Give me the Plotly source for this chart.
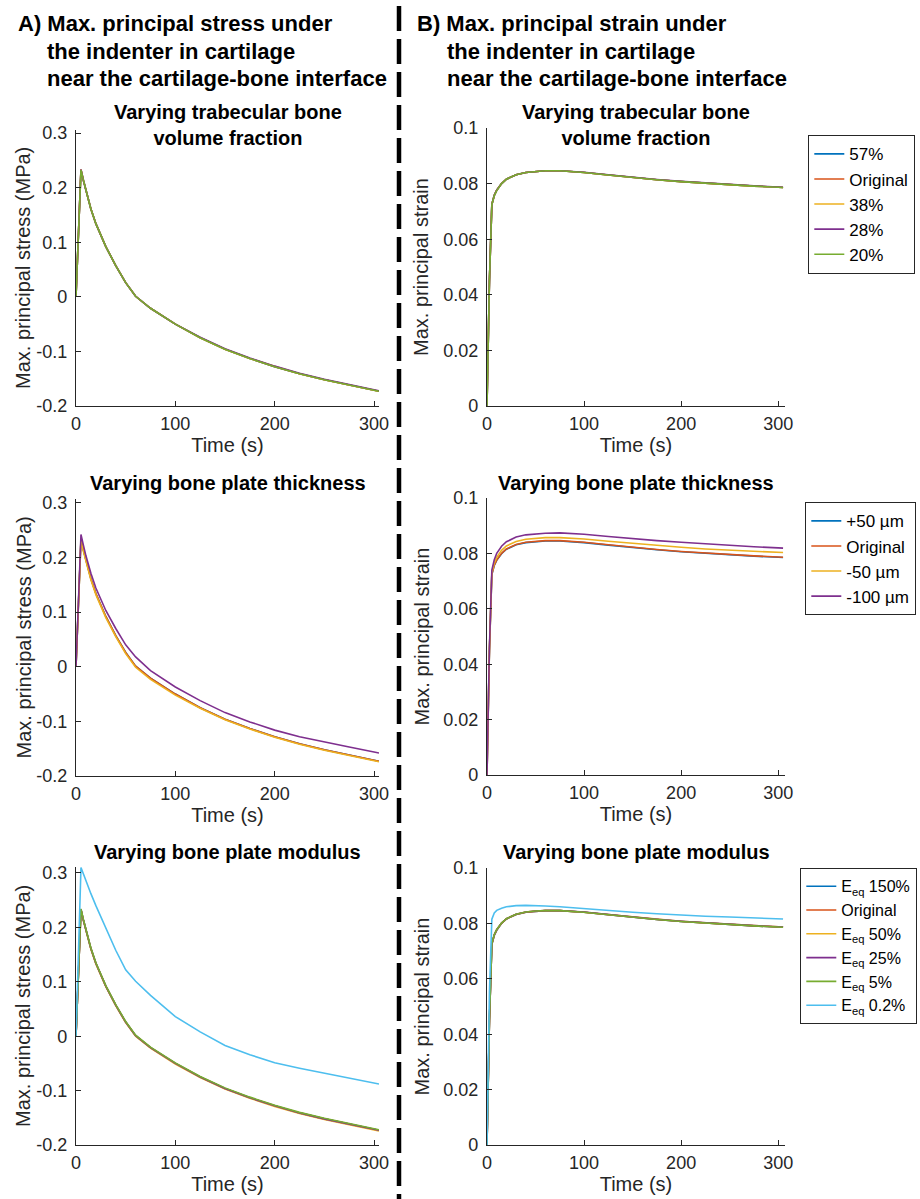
import plotly.graph_objects as go

W, H = 920, 1199
FONT = "Liberation Sans, Arial, sans-serif"
AX = "#262626"

# ---------------- data ----------------
TIME = [0, 2.5, 5, 7.5, 10, 15, 20, 30, 40, 50, 60, 75, 100, 125, 150, 175, 200, 225, 250, 275, 300, 305]

X_TICKS = [0, 100, 200, 300]
X_TICK_LABELS = ["0", "100", "200", "300"]
STRESS_TICKS = [-0.2, -0.1, 0, 0.1, 0.2, 0.3]
STRESS_TICK_LABELS = ["-0.2", "-0.1", "0", "0.1", "0.2", "0.3"]
STRAIN_TICKS = [0, 0.02, 0.04, 0.06, 0.08, 0.1]
STRAIN_TICK_LABELS = ["0", "0.02", "0.04", "0.06", "0.08", "0.1"]

LEGEND_VF = ["57%", "Original", "38%", "28%", "20%"]
LEGEND_TH = ["+50 µm", "Original", "-50 µm", "-100 µm"]
LEGEND_MOD = ["E<sub>eq</sub> 150%", "Original", "E<sub>eq</sub> 50%", "E<sub>eq</sub> 25%",
              "E<sub>eq</sub> 5%", "E<sub>eq</sub> 0.2%"]

# stress (MPa) - varying trabecular bone volume fraction
STRESS_VF57 = [0, 0.117, 0.233, 0.213, 0.194, 0.161, 0.134, 0.092, 0.057, 0.026, 0.001, -0.021, -0.050, -0.075, -0.096, -0.113, -0.128, -0.141, -0.152, -0.162, -0.171, -0.173]
STRESS_VF_ORIG = [0, 0.117, 0.233, 0.213, 0.194, 0.161, 0.134, 0.092, 0.057, 0.026, 0.001, -0.021, -0.050, -0.075, -0.096, -0.113, -0.128, -0.141, -0.152, -0.162, -0.171, -0.173]
STRESS_VF38 = [0, 0.117, 0.233, 0.213, 0.194, 0.161, 0.134, 0.092, 0.057, 0.026, 0.001, -0.021, -0.050, -0.075, -0.096, -0.113, -0.127, -0.141, -0.152, -0.162, -0.171, -0.173]
STRESS_VF28 = [0, 0.117, 0.233, 0.213, 0.194, 0.161, 0.134, 0.092, 0.057, 0.026, 0.001, -0.021, -0.050, -0.074, -0.095, -0.112, -0.127, -0.140, -0.151, -0.161, -0.170, -0.172]
STRESS_VF20 = [0, 0.116, 0.232, 0.213, 0.194, 0.161, 0.134, 0.092, 0.057, 0.026, 0.001, -0.021, -0.050, -0.075, -0.096, -0.113, -0.128, -0.141, -0.152, -0.162, -0.171, -0.173]

# stress - varying bone plate thickness
STRESS_TH_P50 = [0, 0.117, 0.233, 0.213, 0.194, 0.161, 0.134, 0.092, 0.057, 0.026, 0.001, -0.021, -0.050, -0.075, -0.096, -0.113, -0.128, -0.141, -0.152, -0.162, -0.171, -0.173]
STRESS_TH_ORIG = [0, 0.117, 0.233, 0.213, 0.194, 0.161, 0.134, 0.092, 0.057, 0.026, 0.001, -0.021, -0.050, -0.075, -0.096, -0.113, -0.128, -0.141, -0.152, -0.162, -0.171, -0.173]
STRESS_TH_M50 = [0, 0.116, 0.231, 0.211, 0.192, 0.159, 0.132, 0.090, 0.055, 0.024, -0.001, -0.023, -0.052, -0.076, -0.097, -0.114, -0.129, -0.142, -0.153, -0.163, -0.172, -0.174]
STRESS_TH_M100 = [0, 0.121, 0.242, 0.222, 0.203, 0.171, 0.144, 0.103, 0.070, 0.040, 0.018, -0.007, -0.037, -0.062, -0.084, -0.101, -0.116, -0.128, -0.138, -0.147, -0.156, -0.158]

# stress - varying bone plate modulus
STRESS_MOD150 = [0, 0.117, 0.233, 0.213, 0.194, 0.161, 0.134, 0.092, 0.057, 0.026, 0.001, -0.021, -0.050, -0.075, -0.096, -0.113, -0.128, -0.141, -0.152, -0.162, -0.171, -0.173]
STRESS_MOD_ORIG = [0, 0.117, 0.233, 0.213, 0.194, 0.161, 0.134, 0.092, 0.057, 0.026, 0.001, -0.021, -0.050, -0.075, -0.096, -0.113, -0.128, -0.141, -0.152, -0.162, -0.171, -0.173]
STRESS_MOD50 = [0, 0.116, 0.232, 0.212, 0.193, 0.160, 0.133, 0.091, 0.056, 0.025, 0.000, -0.022, -0.051, -0.076, -0.097, -0.114, -0.129, -0.142, -0.153, -0.163, -0.172, -0.174]
STRESS_MOD25 = [0, 0.117, 0.233, 0.213, 0.194, 0.161, 0.134, 0.092, 0.057, 0.026, 0.001, -0.021, -0.050, -0.075, -0.096, -0.113, -0.128, -0.141, -0.152, -0.162, -0.171, -0.173]
STRESS_MOD5 = [0, 0.117, 0.234, 0.214, 0.195, 0.162, 0.135, 0.093, 0.058, 0.027, 0.002, -0.020, -0.049, -0.074, -0.095, -0.112, -0.127, -0.140, -0.151, -0.161, -0.170, -0.172]
STRESS_MOD02 = [0, 0.155, 0.310, 0.298, 0.285, 0.262, 0.240, 0.199, 0.158, 0.122, 0.101, 0.075, 0.036, 0.008, -0.017, -0.034, -0.049, -0.059, -0.068, -0.077, -0.086, -0.088]

# strain - varying trabecular bone volume fraction
STRAIN_VF57 = [0, 0.045, 0.0725, 0.0758, 0.0776, 0.0800, 0.0816, 0.0832, 0.0840, 0.0844, 0.0846, 0.0846, 0.0840, 0.0831, 0.0822, 0.0814, 0.0807, 0.0801, 0.0796, 0.0791, 0.0787, 0.0786]
STRAIN_VF_ORIG = [0, 0.045, 0.0725, 0.0758, 0.0776, 0.0800, 0.0816, 0.0832, 0.0840, 0.0844, 0.0846, 0.0846, 0.0840, 0.0831, 0.0822, 0.0814, 0.0807, 0.0801, 0.0796, 0.0791, 0.0787, 0.0786]
STRAIN_VF38 = [0, 0.045, 0.0725, 0.0758, 0.0776, 0.0800, 0.0816, 0.0832, 0.0840, 0.0844, 0.0846, 0.0846, 0.0840, 0.0831, 0.0822, 0.0814, 0.0807, 0.0801, 0.0796, 0.0791, 0.0787, 0.0786]
STRAIN_VF28 = [0, 0.045, 0.0725, 0.0758, 0.0776, 0.0800, 0.0816, 0.0832, 0.0840, 0.0844, 0.0846, 0.0846, 0.0841, 0.0832, 0.0823, 0.0815, 0.0808, 0.0802, 0.0797, 0.0792, 0.0788, 0.0787]
STRAIN_VF20 = [0, 0.045, 0.0724, 0.0757, 0.0775, 0.0800, 0.0816, 0.0832, 0.0840, 0.0844, 0.0846, 0.0846, 0.0840, 0.0831, 0.0822, 0.0814, 0.0807, 0.0801, 0.0796, 0.0791, 0.0787, 0.0786]

# strain - varying bone plate thickness
STRAIN_TH_P50 = [0, 0.045, 0.0724, 0.0757, 0.0775, 0.0799, 0.0815, 0.0831, 0.0839, 0.0843, 0.0845, 0.0845, 0.0839, 0.0830, 0.0821, 0.0813, 0.0806, 0.0800, 0.0795, 0.0790, 0.0786, 0.0785]
STRAIN_TH_ORIG = [0, 0.045, 0.0725, 0.0758, 0.0776, 0.0800, 0.0816, 0.0832, 0.0840, 0.0844, 0.0846, 0.0846, 0.0840, 0.0831, 0.0822, 0.0814, 0.0807, 0.0801, 0.0796, 0.0791, 0.0787, 0.0786]
STRAIN_TH_M50 = [0, 0.045, 0.0730, 0.0765, 0.0786, 0.0811, 0.0827, 0.0843, 0.0851, 0.0855, 0.0857, 0.0857, 0.0852, 0.0844, 0.0836, 0.0829, 0.0822, 0.0816, 0.0812, 0.0807, 0.0804, 0.0803]
STRAIN_TH_M100 = [0, 0.046, 0.0740, 0.0777, 0.0800, 0.0826, 0.0842, 0.0859, 0.0867, 0.0871, 0.0873, 0.0874, 0.0869, 0.0861, 0.0853, 0.0846, 0.0840, 0.0834, 0.0829, 0.0824, 0.0820, 0.0819]

# strain - varying bone plate modulus
STRAIN_MOD150 = [0, 0.045, 0.0724, 0.0757, 0.0775, 0.0800, 0.0816, 0.0832, 0.0840, 0.0844, 0.0846, 0.0846, 0.0840, 0.0831, 0.0822, 0.0814, 0.0807, 0.0801, 0.0796, 0.0791, 0.0787, 0.0786]
STRAIN_MOD_ORIG = [0, 0.045, 0.0725, 0.0758, 0.0776, 0.0800, 0.0816, 0.0832, 0.0840, 0.0844, 0.0846, 0.0846, 0.0840, 0.0831, 0.0822, 0.0814, 0.0807, 0.0801, 0.0796, 0.0791, 0.0787, 0.0786]
STRAIN_MOD50 = [0, 0.045, 0.0726, 0.0759, 0.0777, 0.0801, 0.0817, 0.0833, 0.0841, 0.0845, 0.0846, 0.0846, 0.0840, 0.0832, 0.0823, 0.0815, 0.0808, 0.0802, 0.0797, 0.0792, 0.0788, 0.0787]
STRAIN_MOD25 = [0, 0.045, 0.0726, 0.0759, 0.0777, 0.0801, 0.0817, 0.0833, 0.0841, 0.0845, 0.0846, 0.0846, 0.0841, 0.0832, 0.0823, 0.0815, 0.0808, 0.0802, 0.0797, 0.0792, 0.0788, 0.0787]
STRAIN_MOD5 = [0, 0.045, 0.0727, 0.0760, 0.0778, 0.0801, 0.0817, 0.0833, 0.0841, 0.0845, 0.0846, 0.0846, 0.0840, 0.0831, 0.0822, 0.0814, 0.0807, 0.0801, 0.0796, 0.0791, 0.0787, 0.0786]
STRAIN_MOD02 = [0, 0.055, 0.0815, 0.0838, 0.0847, 0.0855, 0.0860, 0.0864, 0.0865, 0.0865, 0.0863, 0.0860, 0.0853, 0.0846, 0.0840, 0.0835, 0.0830, 0.0826, 0.0823, 0.0820, 0.0817, 0.0816]

C_BLUE, C_RED, C_YEL, C_PUR, C_GRN, C_CYAN = "#0072BD", "#D95319", "#EDB120", "#7E2F8E", "#77AC30", "#4DBEEE"


# ---------------- layout helpers (pixel -> paper fraction) ----------------
def fx(p):
    return p / W


def fy(p):
    return 1 - p / H


fig = go.Figure()

# panel: (axis index, x px domain, y px domain (top,bottom), x range, y range, kind)
PANELS = [
    (1, (76, 379), (130, 406), (0, 305), (-0.2, 0.3055), "A"),
    (2, (487, 785), (128, 406), (0, 307), (0, 0.1), "B"),
    (3, (76, 379), (499, 776), (0, 305), (-0.2, 0.307), "A"),
    (4, (487, 785), (498, 775), (0, 307), (0, 0.1), "B"),
    (5, (76, 379), (867, 1145), (0, 305), (-0.2, 0.311), "A"),
    (6, (487, 785), (868, 1145), (0, 307), (0, 0.1), "B"),
]

layout_axes = {}
for idx, xd, yd, xr, yr, kind in PANELS:
    xname = "xaxis" if idx == 1 else f"xaxis{idx}"
    yname = "yaxis" if idx == 1 else f"yaxis{idx}"
    common = dict(showline=True, linecolor=AX, linewidth=1.3, ticks="inside", ticklen=5,
                  tickcolor=AX, tickwidth=1.2, showgrid=False, zeroline=False, mirror=False,
                  automargin=False,
                  tickfont=dict(family=FONT, size=18, color=AX), fixedrange=True)
    layout_axes[xname] = dict(common, domain=[fx(xd[0]), fx(xd[1])], range=list(xr),
                              anchor=f"y{idx}", tickvals=X_TICKS, ticktext=X_TICK_LABELS,
                              ticklabelstandoff=1,
                              title=dict(text="Time (s)", standoff=1,
                                         font=dict(family=FONT, size=20, color=AX)))
    if kind == "A":
        tv, tt = STRESS_TICKS, STRESS_TICK_LABELS
    else:
        tv, tt = STRAIN_TICKS, STRAIN_TICK_LABELS
    layout_axes[yname] = dict(common, domain=[fy(yd[1]), fy(yd[0])], range=list(yr),
                              anchor=f"x{idx}", tickvals=tv, ticktext=tt, ticklabelstandoff=4)

fig.update_layout(**layout_axes)


def add_group(idx, series, names, colors, legend):
    xa = "x" if idx == 1 else f"x{idx}"
    ya = "y" if idx == 1 else f"y{idx}"
    for ys, nm, col in zip(series, names, colors):
        fig.add_trace(go.Scatter(x=TIME, y=ys, mode="lines", name=nm, xaxis=xa, yaxis=ya,
                                 line=dict(color=col, width=1.6),
                                 showlegend=legend is not None,
                                 legend=legend if legend else "legend"))


VF_COLORS = [C_BLUE, C_RED, C_YEL, C_PUR, C_GRN]
TH_COLORS = [C_BLUE, C_RED, C_YEL, C_PUR]
MOD_COLORS = [C_BLUE, C_RED, C_YEL, C_PUR, C_GRN, C_CYAN]

add_group(1, [STRESS_VF57, STRESS_VF_ORIG, STRESS_VF38, STRESS_VF28, STRESS_VF20], LEGEND_VF, VF_COLORS, None)
add_group(2, [STRAIN_VF57, STRAIN_VF_ORIG, STRAIN_VF38, STRAIN_VF28, STRAIN_VF20], LEGEND_VF, VF_COLORS, "legend")
add_group(3, [STRESS_TH_P50, STRESS_TH_ORIG, STRESS_TH_M50, STRESS_TH_M100], LEGEND_TH, TH_COLORS, None)
add_group(4, [STRAIN_TH_P50, STRAIN_TH_ORIG, STRAIN_TH_M50, STRAIN_TH_M100], LEGEND_TH, TH_COLORS, "legend2")
add_group(5, [STRESS_MOD150, STRESS_MOD_ORIG, STRESS_MOD50, STRESS_MOD25, STRESS_MOD5, STRESS_MOD02],
          LEGEND_MOD, MOD_COLORS, None)
add_group(6, [STRAIN_MOD150, STRAIN_MOD_ORIG, STRAIN_MOD50, STRAIN_MOD25, STRAIN_MOD5, STRAIN_MOD02],
          LEGEND_MOD, MOD_COLORS, "legend3")

leg_common = dict(bgcolor="white", bordercolor=AX, borderwidth=1.3, xanchor="left", yanchor="top",
                  tracegroupgap=0, itemclick=False, itemdoubleclick=False)
fig.update_layout(
    legend=dict(leg_common, x=fx(808), y=fy(135), font=dict(family=FONT, size=17, color="black")),
    legend2=dict(leg_common, x=fx(805), y=fy(502), font=dict(family=FONT, size=17, color="black")),
    legend3=dict(leg_common, x=fx(800), y=fy(868), font=dict(family=FONT, size=16, color="black")),
)

annotations = []


def text(x, y, s, size, bold=False, xanchor="left", angle=0, color="black"):
    annotations.append(dict(x=fx(x), y=fy(y), xref="paper", yref="paper", text=f"<b>{s}</b>" if bold else s,
                            showarrow=False, xanchor=xanchor, yanchor="middle", textangle=angle,
                            font=dict(family=FONT, size=size, color=color)))


# column headings
text(16, 24, "A) Max. principal stress under", 22, True)
text(45, 51, "the indenter in cartilage", 22, True)
text(45, 78, "near the cartilage-bone interface", 22, True)
text(415, 24, "B) Max. principal strain under", 22, True)
text(445, 51, "the indenter in cartilage", 22, True)
text(445, 78, "near the cartilage-bone interface", 22, True)

# panel titles
for cx in (227.5, 636):
    text(cx, 125, "Varying trabecular bone<br>volume fraction", 20, True, "center")
    text(cx, 483, "Varying bone plate thickness", 20, True, "center")
    text(cx, 852, "Varying bone plate modulus", 20, True, "center")

# y-axis titles
for yc in (268, 637.5, 1006):
    text(23, yc, "Max. principal stress (MPa)", 20, False, "center", -90, AX)
for yc in (267, 636.5, 1006.5):
    text(421, yc, "Max. principal strain", 20, False, "center", -90, AX)

fig.update_layout(
    annotations=annotations,
    shapes=[dict(type="line", xref="paper", yref="paper", x0=fx(399), x1=fx(399), y0=fy(6), y1=0,
                 line=dict(color="black", width=4.5, dash="25px,8px"))],
    width=W, height=H, margin=dict(l=0, r=0, t=0, b=0, autoexpand=False),
    paper_bgcolor="white", plot_bgcolor="white",
    font=dict(family=FONT, color=AX),
)

fig.write_html("out.html")
